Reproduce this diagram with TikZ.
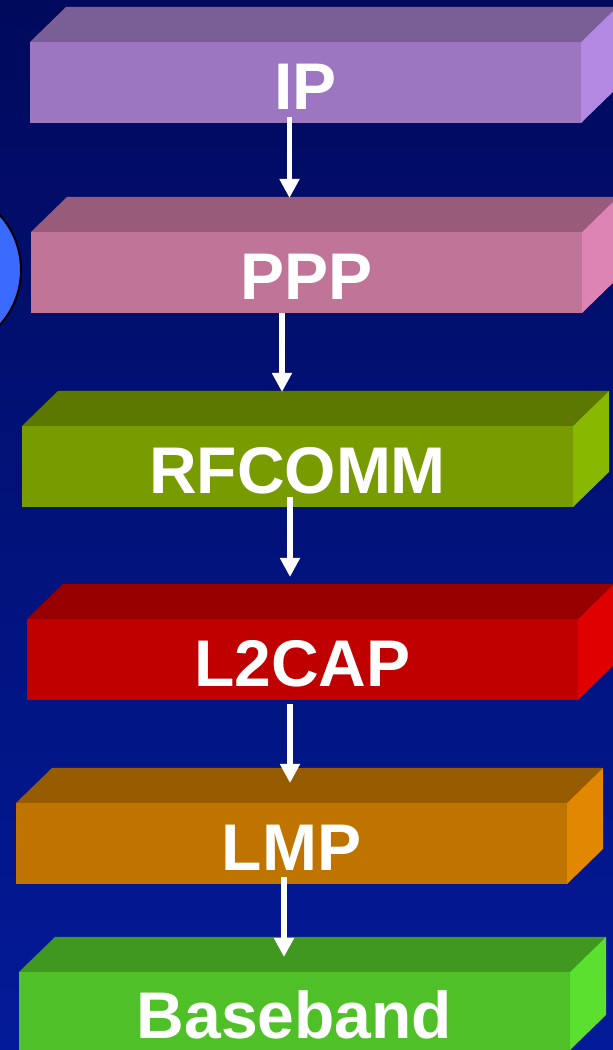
\documentclass[tikz,border=0pt]{standalone}
\usepackage{fontspec}
\setmainfont{Liberation Sans}
\usetikzlibrary{arrows.meta}

% layer colours: front, top and side faces
\definecolor{bgTop}{RGB}{0,10,92}
\definecolor{bgBottom}{RGB}{3,26,152}
\definecolor{ipF}{RGB}{156,118,192}
\definecolor{ipT}{RGB}{122,94,150}
\definecolor{ipS}{RGB}{178,136,226}
\definecolor{pppF}{RGB}{192,116,152}
\definecolor{pppT}{RGB}{152,92,122}
\definecolor{pppS}{RGB}{222,132,180}
\definecolor{rfF}{RGB}{120,156,0}
\definecolor{rfT}{RGB}{92,120,0}
\definecolor{rfS}{RGB}{136,184,0}
\definecolor{lcF}{RGB}{192,0,0}
\definecolor{lcT}{RGB}{152,0,0}
\definecolor{lcS}{RGB}{224,0,0}
\definecolor{lmF}{RGB}{192,116,0}
\definecolor{lmT}{RGB}{152,92,0}
\definecolor{lmS}{RGB}{226,136,0}
\definecolor{bbF}{RGB}{80,192,40}
\definecolor{bbT}{RGB}{64,152,32}
\definecolor{bbS}{RGB}{92,224,48}
\definecolor{blob}{RGB}{58,106,255}

\tikzset{
  layer/.style={anchor=north west, minimum width=551pt, minimum height=81pt,
    inner sep=0pt, outer sep=0pt, text=white,
    font=\bfseries\fontsize{66}{66}\selectfont,
    text height=54pt, text depth=0pt},
  flow/.style={draw=white, line width=5.5pt,
    -{Triangle[width=19pt,length=19pt]}}
}

% top and side faces of a layer block (depth 36 x 35)
\newcommand\layerfaces[3]{%
  \fill[#2] (#1.north west) -- ++(36,35) -- ([shift={(36,35)}]#1.north east)
    -- (#1.north east) -- cycle;
  \fill[#3] (#1.north east) -- ++(36,35) -- ([shift={(36,35)}]#1.south east)
    -- (#1.south east) -- cycle;
}

\begin{document}
\begin{tikzpicture}[x=1pt,y=1pt]
  \useasboundingbox (0,0) rectangle (613,1050);
  \shade[top color=bgTop, bottom color=bgBottom] (0,0) rectangle (613,1050);

  % partly hidden blue disc on the left edge
  \filldraw[fill=blob, draw=black, line width=2pt] (-61,780) circle (82);

  % protocol layers
  \node[layer, fill=ipF]  (ip)   at (30,1008) {IP};
  \layerfaces{ip}{ipT}{ipS}
  \node[layer, fill=pppF] (ppp)  at (31,818) {PPP};
  \layerfaces{ppp}{pppT}{pppS}
  \node[layer, fill=rfF]  (rf)   at (22,624) {RFCOMM};
  \layerfaces{rf}{rfT}{rfS}
  \node[layer, fill=lcF]  (l2)   at (27,431) {L2CAP};
  \layerfaces{l2}{lcT}{lcS}
  \node[layer, fill=lmF]  (lmp)  at (16,247) {LMP};
  \layerfaces{lmp}{lmT}{lmS}
  \node[layer, fill=bbF, minimum height=78pt, text height=55pt] (bb) at (19,78) {Baseband};
  \layerfaces{bb}{bbT}{bbS}

  % data flow down the stack
  \draw[flow] ([xshift=-16pt,yshift=6pt]ip.south)    -- ([xshift=-17pt,yshift=34pt]ppp.north);
  \draw[flow] ([xshift=-24.5pt]ppp.south)             -- ([xshift=-15.5pt,yshift=34pt]rf.north);
  \draw[flow] ([xshift=-7.5pt,yshift=10pt]rf.south)  -- ([xshift=-12.5pt,yshift=42pt]l2.north);
  \draw[flow] ([xshift=-12.5pt,yshift=-4pt]l2.south) -- ([xshift=-1.5pt,yshift=20pt]lmp.north);
  \draw[flow] ([xshift=-7.5pt,yshift=7pt]lmp.south)  -- ([xshift=-10.5pt,yshift=15pt]bb.north);
\end{tikzpicture}
\end{document}
